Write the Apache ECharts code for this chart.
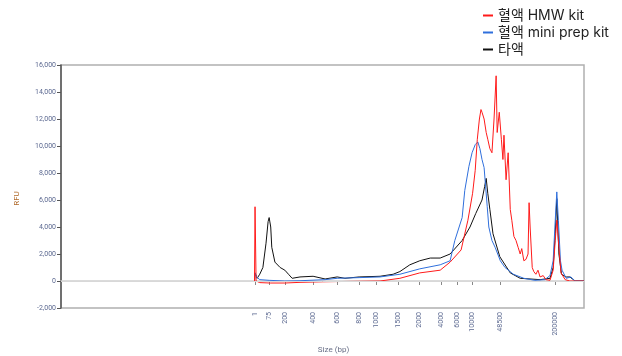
<!DOCTYPE html>
<html>
<head>
<meta charset="utf-8">
<script src="https://cdn.jsdelivr.net/npm/echarts@6/dist/echarts.min.js"></script>
<style>
  html, body { margin: 0; padding: 0; background: #fff; }
  #chart { width: 622px; height: 356px; }
</style>
</head>
<body>
<div id="chart"></div>
<script>
// migration position (0-100) of each ladder peak and its size label
const tickPos = [37.1, 39.8, 42.8, 48.2, 52.8, 57.0, 60.2, 64.4, 68.5, 72.8, 75.7, 78.6, 83.9, 94.5];
const tickLabels = ['1', '75', '200', '400', '600', '800', '1000', '1500', '2000', '4000', '6000', '10000', '48500', '200000'];
const yTicks = [-2000, 0, 2000, 4000, 6000, 8000, 10000, 12000, 14000, 16000];

// [position, RFU]
const hmwKit = [
  [37.0, 0], [37.1, 5500], [37.3, 0], [38.0, -120], [40.0, -150], [42.8, -150], [45.7, -100],
  [50.0, -60], [55.0, -30], [61.0, 0], [64.8, 200], [68.6, 600], [72.5, 800], [74.4, 1400],
  [76.5, 2300], [77.8, 4500], [78.7, 6500], [79.2, 8200], [79.6, 10500], [80.0, 12000],
  [80.3, 12700], [80.5, 12500], [80.9, 12000], [81.3, 11000], [81.6, 10500], [82.0, 9800],
  [82.4, 9500], [82.8, 12000], [83.2, 15200], [83.4, 11000], [83.8, 12500], [84.2, 10500],
  [84.5, 9000], [84.7, 10800], [85.1, 7500], [85.5, 9500], [85.9, 5300], [86.2, 4500],
  [86.6, 3300], [87.0, 3000], [87.4, 2500], [87.8, 2000], [88.1, 2400], [88.5, 1500],
  [88.9, 1600], [89.3, 2000], [89.5, 5800], [89.7, 4000], [90.1, 1000], [90.4, 700],
  [90.8, 500], [91.2, 800], [91.6, 300], [92.2, 400], [92.7, 100], [93.5, 50], [94.1, 800],
  [94.5, 3000], [94.8, 4500], [95.2, 2500], [95.6, 600], [96.4, 100], [97.3, 0], [100, 0]
];
const miniPrepKit = [
  [37.0, 0], [37.1, 600], [37.4, 300], [38.0, 100], [39.8, 50], [42.8, 0], [45.7, 20],
  [50.5, 100], [52.8, 200], [57.0, 250], [61.0, 300], [64.8, 500], [68.6, 900], [72.5, 1200],
  [74.4, 1500], [75.3, 3000], [76.7, 4700], [77.2, 6700], [78.0, 8500], [78.6, 9500],
  [79.2, 10100], [79.7, 10300], [80.1, 9800], [80.5, 9000], [80.9, 8400], [81.5, 5500],
  [81.8, 4000], [82.4, 3000], [83.0, 2500], [84.0, 1500], [84.9, 1000], [86.5, 500],
  [88.5, 200], [90.6, 50], [92.5, 100], [93.5, 400], [94.1, 1500], [94.5, 4500],
  [94.8, 6600], [95.1, 4500], [95.5, 1500], [95.8, 800], [96.6, 200], [97.5, 300],
  [98.3, 0], [100, 0]
];
const saliva = [
  [37.0, 0], [37.1, 600], [37.5, 200], [38.0, 500], [38.6, 1000], [39.2, 2800],
  [39.6, 4400], [39.8, 4700], [40.1, 4000], [40.3, 2500], [40.9, 1400], [41.9, 1000],
  [42.8, 800], [43.5, 500], [44.2, 200], [45.7, 300], [48.2, 350], [50.5, 150],
  [52.8, 300], [54.3, 200], [57.0, 300], [61.0, 350], [63.5, 500], [64.8, 700],
  [66.7, 1200], [68.6, 1500], [70.6, 1700], [72.5, 1700], [74.4, 2000], [76.7, 3000],
  [78.2, 4000], [79.3, 5000], [80.5, 6000], [81.0, 7000], [81.3, 7600], [81.6, 6500],
  [82.0, 5300], [82.6, 3500], [83.9, 1800], [85.9, 600], [87.8, 200], [91.6, 100],
  [93.5, 200], [94.1, 1000], [94.5, 3500], [94.8, 6100], [95.2, 2000], [95.7, 500],
  [96.6, 300], [97.3, 300], [98.3, 0], [100, 0]
];

const seriesNames = ['혈액 HMW kit', '혈액 mini prep kit', '타액'];
const seriesColors = ['#ff1a1a', '#2f6fdc', '#111111'];
const seriesData = [hmwKit, miniPrepKit, saliva];

const chart = echarts.init(document.getElementById('chart'));

chart.setOption({
  animation: false,
  textStyle: { fontFamily: 'Roboto, "Noto Sans CJK KR", sans-serif' },
  legend: {
    orient: 'vertical',
    left: 478,
    top: 3,
    itemWidth: 10,
    itemHeight: 2,
    itemGap: 2,
    icon: 'rect',
    textStyle: {
      fontSize: 14, lineHeight: 15, color: '#222',
      fontFamily: 'Inter, "Noto Sans CJK KR", sans-serif', padding: [0, 0, 0, 0]
    },
    data: seriesNames
  },
  grid: {
    left: 61,
    right: 38,
    top: 65,
    bottom: 48,
    outerBoundsMode: 'none',
    show: true,
    borderColor: '#b0b0b0',
    borderWidth: 1.5
  },
  xAxis: {
    type: 'value',
    min: 0,
    max: 100,
    name: 'Size (bp)',
    nameLocation: 'middle',
    nameGap: 38,
    nameTextStyle: { fontSize: 8, color: '#6a7088', padding: [0, 0, 0, 22] },
    axisLine: { show: true, lineStyle: { color: '#d0d0d0', width: 1.5 } },
    axisTick: { show: true, customValues: tickPos, length: 4, lineStyle: { color: '#888' } },
    axisLabel: {
      customValues: tickPos,
      rotate: 90,
      fontSize: 7,
      color: '#5b6890',
      margin: 4,
      formatter: function (v) {
        const i = tickPos.findIndex(function (p) { return Math.abs(p - v) < 0.01; });
        return i >= 0 ? tickLabels[i] : '';
      }
    },
    splitLine: { show: false }
  },
  yAxis: {
    type: 'value',
    min: yTicks[0],
    max: yTicks[yTicks.length - 1],
    interval: 2000,
    name: 'RFU',
    nameLocation: 'middle',
    nameGap: 40,
    nameTextStyle: { fontSize: 8, color: '#b06a2a', padding: [0, 24, 0, 0] },
    axisLine: { show: true, lineStyle: { color: '#555', width: 1.5 } },
    axisTick: { show: true, length: 4, lineStyle: { color: '#555' } },
    axisLabel: { fontSize: 7, color: '#5b6890', margin: 5 },
    splitLine: { show: false }
  },
  series: seriesData.map(function (d, i) {
    const s = {
      name: seriesNames[i],
      type: 'line',
      data: d,
      showSymbol: false,
      symbol: 'none',
      z: 3 - i,
      lineStyle: { width: 1, color: seriesColors[i] },
      itemStyle: { color: seriesColors[i] }
    };
    if (i === 0) {
      s.markLine = {
        silent: true,
        symbol: 'none',
        label: { show: false },
        lineStyle: { color: '#d8d8d8', width: 1, type: 'solid' },
        data: [{ yAxis: 0 }]
      };
    }
    return s;
  })
});
</script>
</body>
</html>
